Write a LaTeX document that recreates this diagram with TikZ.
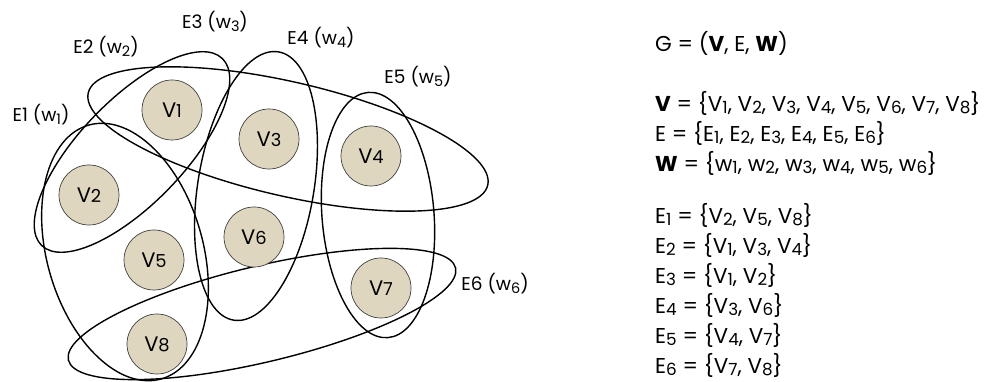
\documentclass[tikz,border=0pt]{standalone}
\usepackage{fontspec}
\setmainfont{Poppins}
\usepackage{graphicx}
\usetikzlibrary{positioning}
\definecolor{vfill}{RGB}{222,214,190}
\newcommand{\dg}[1]{\scalebox{0.85}{#1}}
\newcommand{\ix}[1]{\raisebox{-0.25ex}{\scalebox{0.78}{#1}}}

\begin{document}
\begin{tikzpicture}[x=1pt,y=-1pt,
  vtx/.style={circle,draw=black!75,fill=vfill,line width=0.7pt,minimum size=60pt,inner sep=0pt,font=\fontsize{21}{21}\selectfont},
  hedge/.style={line width=1.4pt},
  lab/.style={inner sep=0pt,font=\fontsize{18.5}{18.5}\selectfont},
  setline/.style={anchor=west,inner sep=0pt,font=\fontsize{21.5}{21.5}\selectfont}]
\useasboundingbox (0,0) rectangle (989,382);
% hyperedges
\coordinate (c1) at (125,252);
\coordinate (c2) at (288,139);
\coordinate (c3) at (132,152);
\coordinate (c4) at (256,186);
\coordinate (c5) at (378,215);
\coordinate (c6) at (262,314);
\draw[hedge,rotate around={106:(c1)}] (c1) ellipse [x radius=132pt,y radius=78pt];
\draw[hedge,rotate around={-13:(c2)}] (c2) ellipse [x radius=205pt,y radius=57pt];
\draw[hedge,rotate around={46:(c3)}] (c3) ellipse [x radius=130pt,y radius=52pt];
\draw[hedge,rotate around={80.5:(c4)}] (c4) ellipse [x radius=136pt,y radius=58pt];
\draw[hedge,rotate around={94.6:(c5)}] (c5) ellipse [x radius=123pt,y radius=56pt];
\draw[hedge,rotate around={13.4:(c6)}] (c6) ellipse [x radius=199pt,y radius=48pt];
% vertices
\node[vtx] (v1) at (172,110) {V\dg{1}};
\node[vtx] (v2) at (89,195) {V\dg{2}};
\node[vtx] (v3) at (269,139) {V\dg{3}};
\node[vtx] (v4) at (371,156) {V\dg{4}};
\node[vtx] (v5) at (154,260) {V\dg{5}};
\node[vtx] (v6) at (254,237) {V\dg{6}};
\node[vtx] (v7) at (381,288) {V\dg{7}};
\node[vtx] (v8) at (157,344) {V\dg{8}};
% edge labels
\node[lab] (l1) at (41,115) {E1 (w\ix{1})};
\node[lab] (l2) at (106,47) {E2 (w\ix{2})};
\node[lab] (l3) at (215,22) {E3 (w\ix{3})};
\node[lab] (l4) at (321,38) {E4 (w\ix{4})};
\node[lab] (l5) at (418,77) {E5 (w\ix{5})};
\node[lab] (l6) at (495,284) {E6 (w\ix{6})};
% definitions
\node[setline] (G) at (655,43) {G = (\textbf{V}, E, \textbf{W})};
\node[setline] (Vs) at (655,103) {\textbf{V} = \{V\ix{1}, V\ix{2}, V\ix{3}, V\ix{4}, V\ix{5}, V\ix{6}, V\ix{7}, V\ix{8}\}};
\node[setline] (Es) at (655,133) {E = \{E\ix{1}, E\ix{2}, E\ix{3}, E\ix{4}, E\ix{5}, E\ix{6}\}};
\node[setline] (Ws) at (655,163) {\textbf{W} = \{w\ix{1}, w\ix{2}, w\ix{3}, w\ix{4}, w\ix{5}, w\ix{6}\}};
\node[setline] (s1) at (655,215) {E\ix{1} = \{V\ix{2}, V\ix{5}, V\ix{8}\}};
\node[setline] (s2) at (655,245) {E\ix{2} = \{V\ix{1}, V\ix{3}, V\ix{4}\}};
\node[setline] (s3) at (655,275) {E\ix{3} = \{V\ix{1}, V\ix{2}\}};
\node[setline] (s4) at (655,305) {E\ix{4} = \{V\ix{3}, V\ix{6}\}};
\node[setline] (s5) at (655,335) {E\ix{5} = \{V\ix{4}, V\ix{7}\}};
\node[setline] (s6) at (655,365) {E\ix{6} = \{V\ix{7}, V\ix{8}\}};
\end{tikzpicture}
\end{document}
